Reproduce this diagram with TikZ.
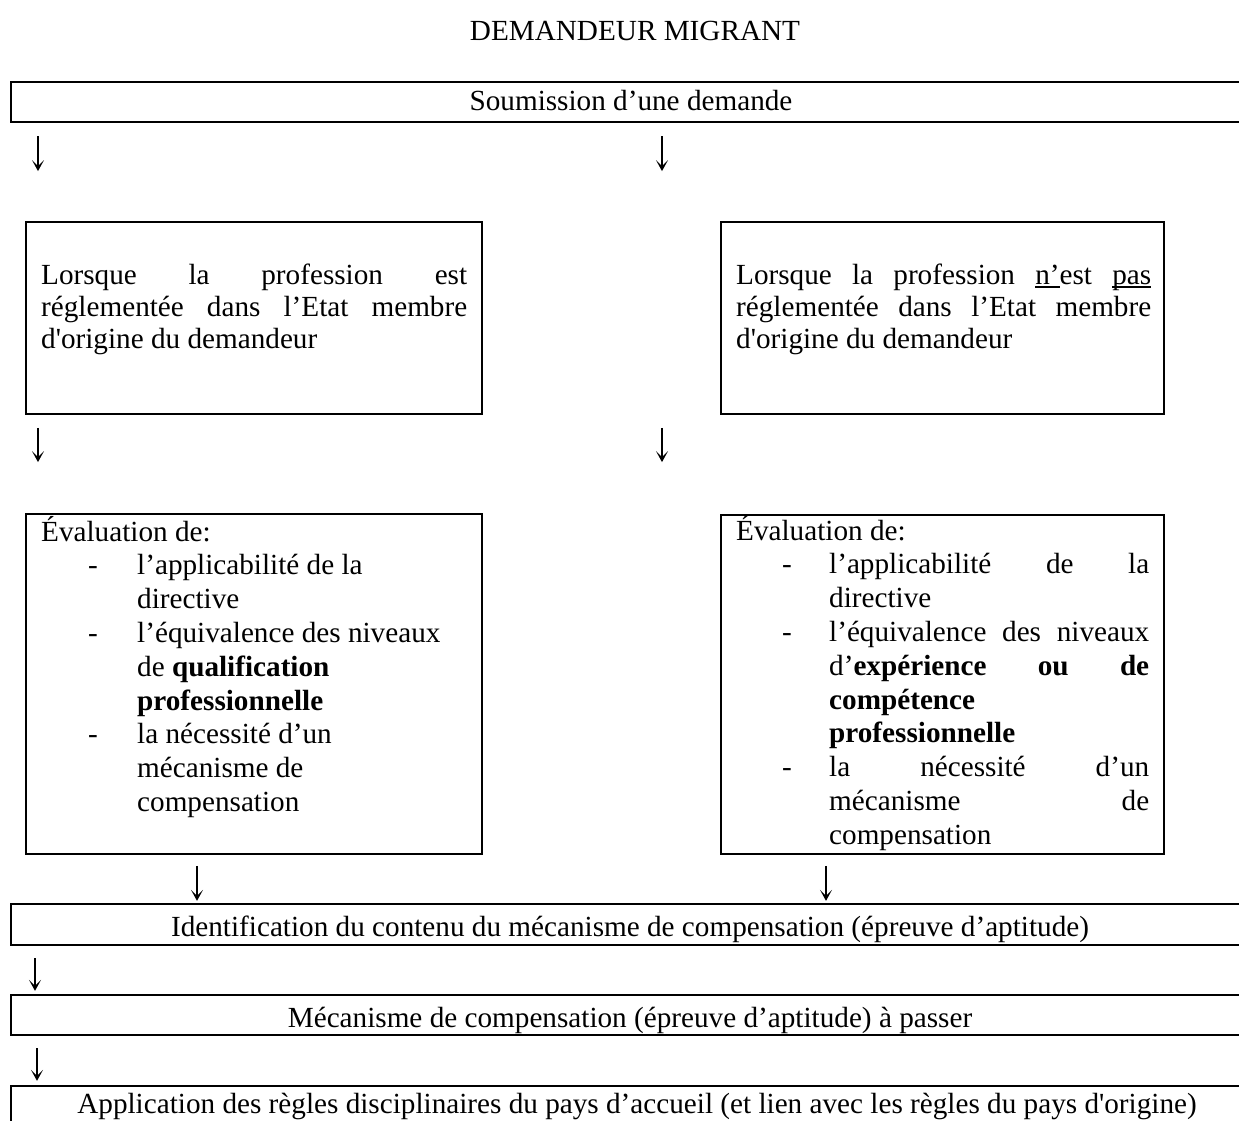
\documentclass[tikz,border=0pt]{standalone}
\usepackage{fontspec}
\newfontfamily\tnr{Liberation Serif}
\usetikzlibrary{arrows.meta}
\newcommand\fsz{\fontsize{29.2pt}{32pt}\selectfont}
\newcommand\dashl[2]{\hbox to #1{\hskip#2\relax-\hfil}}
\newcommand\ulx[1]{\setbox0\hbox{#1}\rlap{\rule[-3.5pt]{\wd0}{1.5pt}}\box0}
\begin{document}
\begin{tikzpicture}[x=1pt,y=-1pt,
  wbox/.style={draw, line width=2.3pt, inner sep=0pt},
  cbox/.style={draw, line width=1.8pt, inner sep=0pt},
  txt/.style={inner sep=0pt, font=\tnr\fsz},
  arr/.style={line width=1.3pt, -{Stealth[length=11pt,width=12pt,inset=6pt]}}]
\useasboundingbox (0,0) rectangle (1239,1120);
\clip (0,0) rectangle (1239,1120);

% boxes
\node[wbox, minimum width=1260pt, minimum height=40pt] (b1) at (641,102) {};
\node[cbox, minimum width=456pt, minimum height=192pt] (b2l) at (254,318) {};
\node[cbox, minimum width=443pt, minimum height=192pt] (b2r) at (942.5,318) {};
\node[cbox, minimum width=456pt, minimum height=340pt] (b3l) at (254,684) {};
\node[cbox, minimum width=443pt, minimum height=339pt] (b3r) at (942.5,684.5) {};
\node[wbox, minimum width=1260pt, minimum height=41pt] (b4) at (641,924.5) {};
\node[wbox, minimum width=1260pt, minimum height=40pt] (b5) at (641,1015) {};
\node[wbox, minimum width=1260pt, minimum height=60pt] (b6) at (641,1116) {};

% texts
\node[txt, anchor=base] (title) at (635,40) {DEMANDEUR MIGRANT};
\node[txt, anchor=base] (t1) at (631,110) {Soumission d’une demande};
\node[txt, anchor=base west] (t2l) at (41,284) {\vtop{\baselineskip=32pt
  \hbox to 426pt{Lorsque\hfill la\hfill profession\hfill est}
  \hbox to 426pt{réglementée\hfill dans\hfill l’Etat\hfill membre}
  \hbox{d'origine du demandeur}}};
\node[txt, anchor=base west] (t2r) at (736,284) {\vtop{\baselineskip=32pt
  \hbox to 415pt{Lorsque\hfill la\hfill profession\hfill \ulx{n’}est\hfill \ulx{pas}}
  \hbox to 415pt{réglementée\hfill dans\hfill l’Etat\hfill membre}
  \hbox{d'origine du demandeur}}};
\node[txt, anchor=base west] (t3l) at (41,541) {\vtop{\baselineskip=33.8pt
  \hbox{Évaluation de:}
  \hbox{\dashl{96pt}{47pt}l’applicabilité de la}
  \hbox{\hskip96pt\relax directive}
  \hbox{\dashl{96pt}{47pt}l’équivalence des niveaux}
  \hbox{\hskip96pt\relax de \textbf{qualification}}
  \hbox{\hskip96pt\relax\textbf{professionnelle}}
  \hbox{\dashl{96pt}{47pt}la nécessité d’un}
  \hbox{\hskip96pt\relax mécanisme de}
  \hbox{\hskip96pt\relax compensation}}};
\node[txt, anchor=base west] (t3r) at (736,540) {\vtop{\baselineskip=33.8pt
  \hbox{Évaluation de:}
  \hbox{\dashl{93pt}{46pt}\hbox to 320pt{l’applicabilité\hfill de\hfill la}}
  \hbox{\hskip93pt\relax directive}
  \hbox{\dashl{93pt}{46pt}\hbox to 320pt{l’équivalence\hfill des\hfill niveaux}}
  \hbox{\hskip93pt\relax\hbox to 320pt{d’\textbf{expérience}\hfill\textbf{ou}\hfill\textbf{de}}}
  \hbox{\hskip93pt\relax\textbf{compétence}}
  \hbox{\hskip93pt\relax\textbf{professionnelle}}
  \hbox{\dashl{93pt}{46pt}\hbox to 320pt{la\hfill nécessité\hfill d’un}}
  \hbox{\hskip93pt\relax\hbox to 320pt{mécanisme\hfill de}}
  \hbox{\hskip93pt\relax compensation}}};
\node[txt, anchor=base] (t4) at (630,936) {Identification du contenu du mécanisme de compensation (épreuve d’aptitude)};
\node[txt, anchor=base] (t5) at (630,1027) {Mécanisme de compensation (épreuve d’aptitude) à passer};
\node[txt, anchor=base] (t6) at (637,1113) {Application des règles disciplinaires du pays d’accueil (et lien avec les règles du pays d'origine)};

% arrows
\coordinate (xa) at (38,0);
\coordinate (xb) at (662,0);
\coordinate (xc) at (197,0);
\coordinate (xd) at (826,0);
\coordinate (xe) at (35,0);
\coordinate (xf) at (37,0);
\draw[arr, shorten <=13pt, shorten >=50pt] (b1.south -| xa) -- (b2l.north -| xa);
\draw[arr, shorten <=13pt, shorten >=50pt] (b1.south -| xb) -- (b2r.north -| xb);
\draw[arr, shorten <=13pt, shorten >=51pt] (b2l.south -| xa) -- (b3l.north -| xa);
\draw[arr, shorten <=13pt, shorten >=52pt] (b2r.south -| xb) -- (b3r.north -| xb);
\draw[arr, shorten <=11pt, shorten >=2pt] (b3l.south -| xc) -- (b4.north -| xc);
\draw[arr, shorten <=11pt, shorten >=2pt] (b3r.south -| xd) -- (b4.north -| xd);
\draw[arr, shorten <=12pt, shorten >=3pt] (b4.south -| xe) -- (b5.north -| xe);
\draw[arr, shorten <=12pt, shorten >=4pt] (b5.south -| xf) -- (b6.north -| xf);
\end{tikzpicture}
\end{document}
